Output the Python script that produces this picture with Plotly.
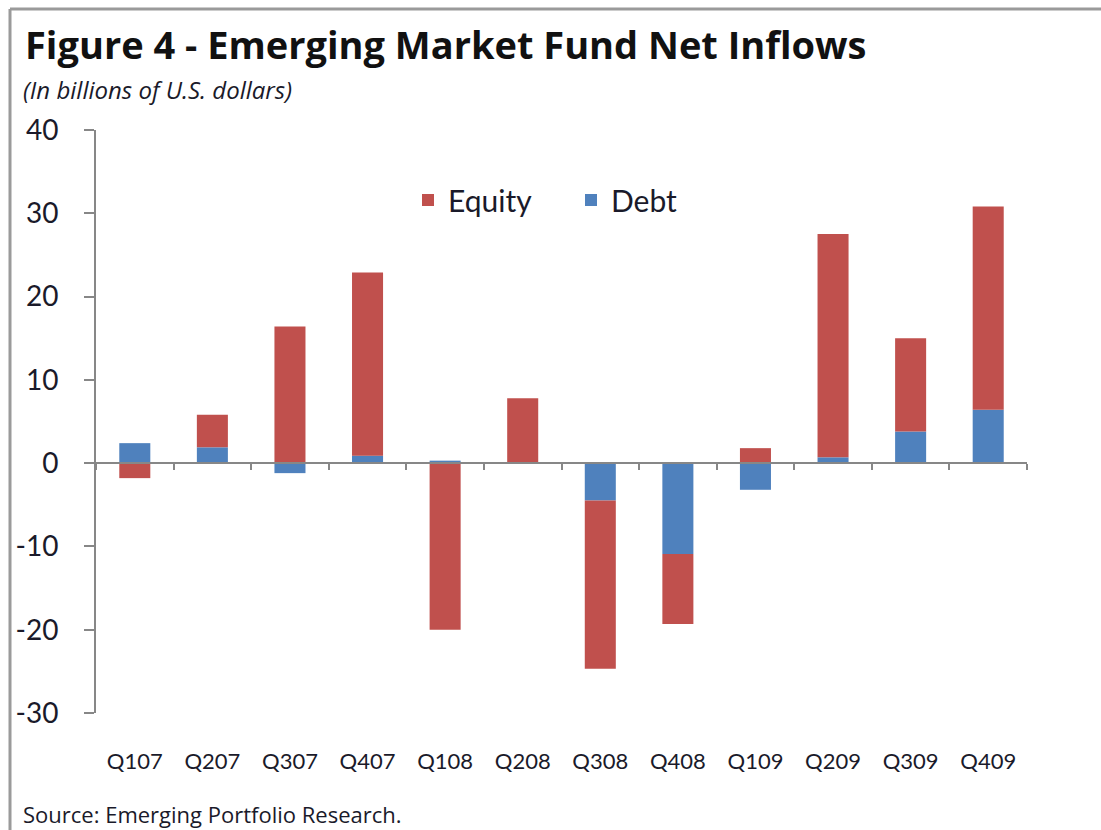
import plotly.graph_objects as go

# Quarterly emerging-market fund net inflows, billions of USD
quarters = ["Q107", "Q207", "Q307", "Q407", "Q108", "Q208",
            "Q308", "Q408", "Q109", "Q209", "Q309", "Q409"]
equity = [-1.8, 3.9, 16.4, 22.0, -20.0, 7.8, -20.2, -8.4, 1.8, 26.8, 11.2, 24.4]
debt = [2.4, 1.9, -1.2, 0.9, 0.3, 0.0, -4.5, -10.9, -3.2, 0.7, 3.8, 6.4]
y_ticks = [-30, -20, -10, 0, 10, 20, 30, 40]
y_tick_text = ["-30", "-20", "-10", "0", "10", "20", "30", "40"]

W, H = 1101, 830
L, R, T, B = 96, 74, 130, 117
Y_MIN, Y_MAX = -30, 40
plot_w = W - L - R
plot_h = H - T - B


def px_x(px):
    return (px - L) / plot_w


def px_y(py):
    return (H - B - py) / plot_h


FONT = "Lato"
RED = "#C0504D"
BLUE = "#4F81BD"
AXIS = "#878787"

fig = go.Figure()
fig.add_trace(go.Bar(x=quarters, y=debt, name="Debt", marker=dict(color=BLUE, line_width=0)))
fig.add_trace(go.Bar(x=quarters, y=equity, name="Equity", marker=dict(color=RED, line_width=0)))
# invisible trace that carries the category labels along the bottom edge
fig.add_trace(go.Scatter(x=quarters, y=[None] * len(quarters), xaxis="x2", mode="markers",
                         showlegend=False, hoverinfo="skip"))

zero_pos = (0 - Y_MIN) / (Y_MAX - Y_MIN)

fig.update_layout(
    width=W, height=H,
    margin=dict(l=L, r=R, t=T, b=B),
    paper_bgcolor="white", plot_bgcolor="white",
    barmode="relative", bargap=0.6,
    font=dict(family=FONT, color="#1a1a1a"),
    showlegend=True,
    legend=dict(orientation="h", traceorder="reversed",
                x=px_x(408), xanchor="left", y=px_y(200), yanchor="middle",
                font=dict(size=30, family=FONT, color="#1a1a2a"),
                bgcolor="rgba(0,0,0,0)", entrywidth=118, itemclick=False),
    xaxis=dict(type="category", categoryorder="array", categoryarray=quarters,
               range=[-0.5, len(quarters) - 0.5],
               anchor="free", position=zero_pos,
               showline=True, linecolor=AXIS, linewidth=2,
               ticks="outside", tickson="boundaries", ticklen=6, tickcolor=AXIS, tickwidth=1.5,
               showticklabels=False, showgrid=False, zeroline=False),
    xaxis2=dict(type="category", categoryorder="array", categoryarray=quarters,
                range=[-0.5, len(quarters) - 0.5],
                overlaying="x", anchor="y", side="bottom",
                showline=False, showgrid=False, zeroline=False,
                ticks="outside", ticklen=29, tickcolor="rgba(0,0,0,0)",
                tickfont=dict(size=22, family=FONT, color="#1a1a2a")),
    yaxis=dict(range=[Y_MIN, Y_MAX], tickvals=y_ticks, ticktext=y_tick_text,
               showline=True, linecolor=AXIS, linewidth=2,
               ticks="outside", ticklen=10, tickcolor=AXIS, tickwidth=1.5,
               ticklabelstandoff=20,
               tickfont=dict(size=28, family=FONT, color="#1a1a2a"),
               showgrid=False, zeroline=False),
)

fig.add_annotation(text="<b>Figure 4 - Emerging Market Fund Net Inflows</b>",
                   xref="paper", yref="paper", x=px_x(23), y=px_y(44),
                   xanchor="left", yanchor="middle", showarrow=False,
                   font=dict(size=38, family="Open Sans", color="#111111"))
fig.add_annotation(text="<i>(In billions of U.S. dollars)</i>",
                   xref="paper", yref="paper", x=px_x(21), y=px_y(90),
                   xanchor="left", yanchor="middle", showarrow=False,
                   font=dict(size=24, family="Open Sans", color="#1a1a2a"))
fig.add_annotation(text="Source: Emerging Portfolio Research.",
                   xref="paper", yref="paper", x=px_x(21), y=px_y(814),
                   xanchor="left", yanchor="middle", showarrow=False,
                   font=dict(size=22, family="Open Sans", color="#1a1a2a"))

# outer frame: top and left edges
fig.add_shape(type="line", xref="paper", yref="paper",
              x0=px_x(10), x1=px_x(W + 5), y0=px_y(9), y1=px_y(9),
              line=dict(color="#9a9a9a", width=3))
fig.add_shape(type="line", xref="paper", yref="paper",
              x0=px_x(10), x1=px_x(10), y0=px_y(9), y1=px_y(H + 5),
              line=dict(color="#9a9a9a", width=3))

fig.write_html("out.html")
